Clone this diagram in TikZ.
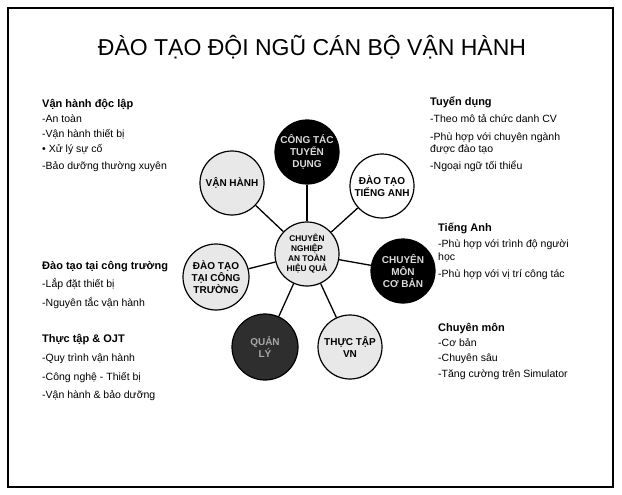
\documentclass[tikz,border=0pt]{standalone}
\usepackage{fontspec}
\setmainfont{Liberation Sans}
\begin{document}
\begin{tikzpicture}[x=1pt,y=-1pt,
  bub/.style={circle,draw=black,line width=1.2pt,minimum size=64pt,inner sep=0pt,align=center,
    font=\bfseries\fontsize{10}{12}\selectfont},
  speck/.style={bub,fill=black!9},
  plain/.style={bub,fill=white},
  dark/.style={bub,fill=black,text=white!85!black},
  darkgray/.style={bub,fill=black!82,text=black!35},
  link/.style={line width=1.3pt},
  head/.style={anchor=base west,font=\bfseries\fontsize{11}{13}\selectfont,inner sep=0pt},
  item/.style={anchor=base west,font=\fontsize{10.5}{11}\selectfont,inner sep=0pt},
]
\useasboundingbox (0,0) rectangle (622,495);
\draw[line width=1.5pt] (8,8) rectangle (613,487);
\node[font=\fontsize{23}{26}\selectfont,anchor=base] (title) at (312,56) {ĐÀO TẠO ĐỘI NGŨ CÁN BỘ VẬN HÀNH};

% bubbles
\node[speck,minimum size=64pt,font=\bfseries\fontsize{8.3}{10}\selectfont] (c) at (307,254) {CHUYÊN\\NGHIỆP\\AN TOÀN\\HIỆU QUẢ};
\node[dark] (td) at (307,152) {CÔNG TÁC\\TUYỂN\\DỤNG};
\node[plain] (ta) at (382,186) {ĐÀO TẠO\\TIẾNG ANH};
\node[speck] (vh) at (232,183) {VẬN HÀNH};
\node[speck,minimum size=66pt] (ct) at (216,277) {ĐÀO TẠO\\TẠI CÔNG\\TRƯỜNG};
\node[dark] (cm) at (403,271) {CHUYÊN\\MÔN\\CƠ BẢN};
\node[darkgray,minimum size=66pt] (ql) at (265,347) {QUẢN\\LÝ};
\node[speck] (tt) at (350,347) {THỰC TẬP\\VN};

\foreach \n in {td,ta,vh,ct,cm,ql,tt} \draw[link] (c) -- (\n);

% left texts
\node[head] (l1) at (42,107) {Vận hành độc lập};
\node[item] (l1a) at (42,122) {-An toàn};
\node[item] (l1b) at (42,138) {-Vận hành thiết bị};
\node[item] (l1c) at (42,153) {• Xử lý sự cố};
\node[item] (l1d) at (42,169) {-Bảo dưỡng thường xuyên};

\node[head] (l2) at (42,269) {Đào tạo tại công trường};
\node[item] (l2a) at (42,287) {-Lắp đặt thiết bị};
\node[item] (l2b) at (42,306) {-Nguyên tắc vận hành};

\node[head] (l3) at (42,342) {Thực tập \& OJT};
\node[item] (l3a) at (42,361) {-Quy trình vận hành};
\node[item] (l3b) at (42,380) {-Công nghệ - Thiết bị};
\node[item] (l3c) at (42,398) {-Vận hành \& bảo dưỡng};

% right texts
\node[head] (r1) at (430,106) {Tuyển dụng};
\node[item] (r1a) at (430,123) {-Theo mô tả chức danh CV};
\node[item] (r1b) at (430,141) {-Phù hợp với chuyên ngành};
\node[item] (r1b2) at (430,153) {được đào tạo};
\node[item] (r1c) at (430,169) {-Ngoại ngữ tối thiểu};

\node[head] (r2) at (438,231) {Tiếng Anh};
\node[item] (r2a) at (438,247) {-Phù hợp với trình độ người};
\node[item] (r2a2) at (438,260) {học};
\node[item] (r2b) at (438,277) {-Phù hợp với vị trí công tác};

\node[head] (r3) at (438,331) {Chuyên môn};
\node[item] (r3a) at (438,346) {-Cơ bản};
\node[item] (r3b) at (438,361) {-Chuyên sâu};
\node[item] (r3c) at (438,377) {-Tăng cường trên Simulator};
\end{tikzpicture}
\end{document}
